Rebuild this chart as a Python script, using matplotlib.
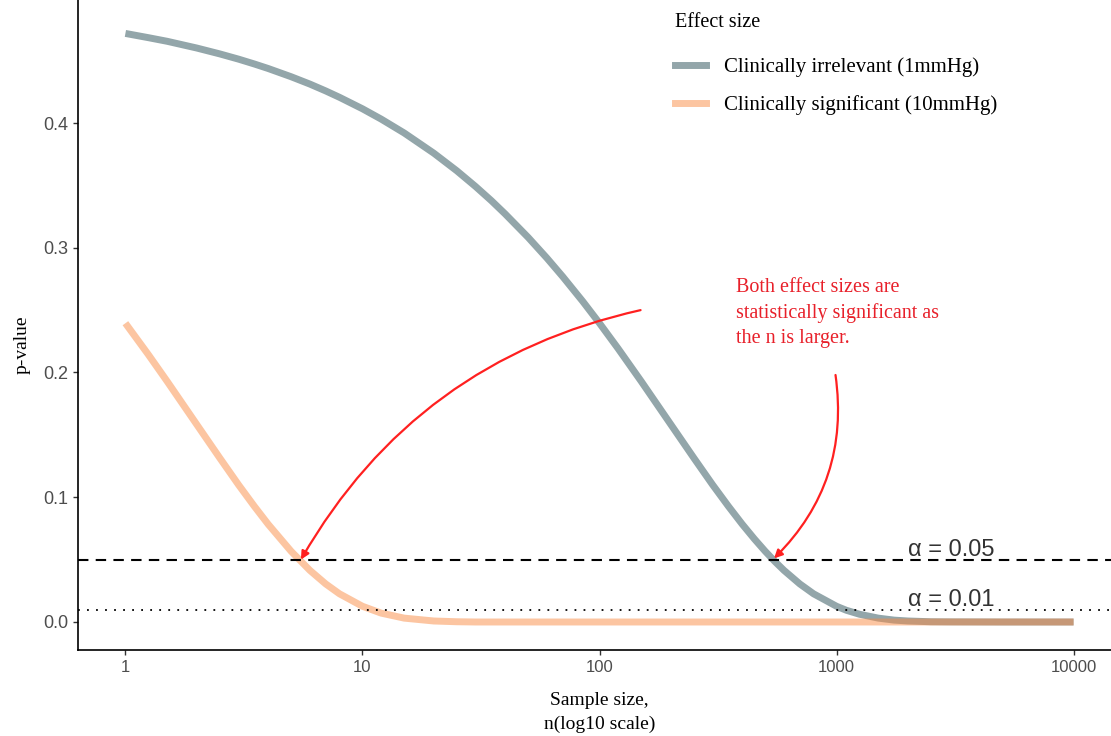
import matplotlib
matplotlib.use("Agg")
import matplotlib.pyplot as plt
from matplotlib.lines import Line2D

# p-value vs sample size
n_small = [1, 1.25, 1.5, 2, 2.5, 3, 3.5, 4, 5, 6, 7, 8, 10, 12, 15, 20, 25,
           30, 35, 40, 50, 60, 70, 85, 100, 120, 150, 200, 250, 300, 350,
           400, 450, 500, 550, 600, 700, 800, 1000, 1100, 1250, 1500, 1750,
           2000, 2500, 3000, 5000, 10000]
p_small = [0.4718, 0.4684, 0.4655, 0.4601, 0.4554, 0.4512, 0.4473, 0.4437,
           0.4371, 0.4312, 0.4257, 0.4206, 0.4114, 0.4031, 0.3920, 0.3758,
           0.3617, 0.3491, 0.3377, 0.3271, 0.3083, 0.2917, 0.2768, 0.2570,
           0.2395, 0.2190, 0.1929, 0.1583, 0.1315, 0.1100, 0.0927, 0.0784,
           0.0666, 0.0567, 0.0484, 0.0414, 0.0305, 0.0226, 0.0126, 0.0094,
           0.0062, 0.0031, 0.0015, 0.0008, 0.0002, 0.0001, 0.0, 0.0]

n_large = [1, 1.25, 1.5, 2, 2.5, 3, 3.5, 4, 5, 6, 7, 8, 10, 12, 15, 20, 25,
           30, 50, 100, 1000, 10000]
p_large = [0.2395, 0.2143, 0.1929, 0.1583, 0.1315, 0.1100, 0.0927, 0.0784,
           0.0567, 0.0414, 0.0305, 0.0226, 0.0126, 0.0071, 0.0031, 0.0008,
           0.0002, 0.0, 0.0, 0.0, 0.0, 0.0]

alphas = [0.05, 0.01]
alpha_labels = ["α = 0.05", "α = 0.01"]
x_ticks = [1, 10, 100, 1000, 10000]
y_ticks = [0.0, 0.1, 0.2, 0.3, 0.4]

serif = ["Liberation Serif", "DejaVu Serif"]
sans = ["Liberation Sans", "DejaVu Sans"]
gray = "#93A6AA"
orange = (0.98, 0.55, 0.27)
red = "#FF2020"

fig = plt.figure(figsize=(11.11, 7.36), dpi=100)
ax = fig.add_axes([78 / 1111, 86 / 736, 1043 / 1111, 650 / 736])

ax.plot(n_small, p_small, color=gray, lw=5, solid_capstyle="butt",
        solid_joinstyle="round")
ax.plot(n_large, p_large, color=orange, alpha=0.5, lw=5, solid_capstyle="butt",
        solid_joinstyle="round")

ax.axhline(alphas[0], color="black", lw=1.5, ls=(0, (5, 3.5)))
ax.axhline(alphas[1], color="black", lw=1.3, ls=(0, (1, 4)))
for a, lab in zip(alphas, alpha_labels):
    ax.text(2000, a - 0.0012, lab, fontsize=17, color="#333333",
            family=sans, va="bottom")

# red callout
ax.text(375, 0.276, "Both effect sizes are\nstatistically significant as\nthe n is larger.",
        color="#E8202A", fontsize=14.5, family=serif, va="top", linespacing=1.42)
ax.annotate("", xy=(5.5, 0.05), xytext=(149, 0.25),
            arrowprops=dict(arrowstyle="-|>", color=red, lw=1.6,
                            connectionstyle="arc3,rad=0.22", mutation_scale=12,
                            shrinkA=0, shrinkB=0))
ax.annotate("", xy=(545, 0.051), xytext=(990, 0.198),
            arrowprops=dict(arrowstyle="-|>", color=red, lw=1.6,
                            connectionstyle="arc3,rad=-0.25", mutation_scale=12,
                            shrinkA=0, shrinkB=0))

ax.set_xscale("log")
ax.set_xlim(10 ** -0.2, 10 ** 4.2)
ax.set_ylim(-0.02245, 0.4986)
ax.set_xticks(x_ticks)
ax.set_xticklabels([str(t) for t in x_ticks])
ax.minorticks_off()
ax.set_yticks(y_ticks)
ax.set_yticklabels(["%.1f" % t for t in y_ticks])
for lab in ax.get_xticklabels() + ax.get_yticklabels():
    lab.set_family(sans)
ax.tick_params(labelsize=12, labelcolor="#4D4D4D", color="#333333",
               length=3.5, width=1)
ax.tick_params(axis="y", labelsize=13)

for s in ["top", "right"]:
    ax.spines[s].set_visible(False)
for s in ["left", "bottom"]:
    ax.spines[s].set_linewidth(1.2)

ax.set_ylabel("p-value", fontsize=14, family=serif)
ax.yaxis.set_label_coords(-0.045, 0.469)
ax.set_xlabel("Sample size,\nn(log10 scale)", fontsize=14, family=serif,
              linespacing=1.5)
ax.xaxis.set_label_coords(0.5, -0.064)

handles = [Line2D([], [], color=gray, lw=5),
           Line2D([], [], color=orange, alpha=0.5, lw=5)]
leg = fig.legend(handles, ["Clinically irrelevant (1mmHg)",
                           "Clinically significant (10mmHg)"],
                 title="Effect size", loc="upper left",
                 bbox_to_anchor=(656 / 1111, 1.008), frameon=False,
                 prop={"family": serif, "size": 15},
                 handlelength=1.5, handletextpad=0.85, labelspacing=0.85)
leg.get_title().set_family(serif)
leg.get_title().set_fontsize(14.5)
leg._legend_box.align = "left"
leg._legend_box.sep = 18.5

fig.savefig("out.png", dpi=100)
